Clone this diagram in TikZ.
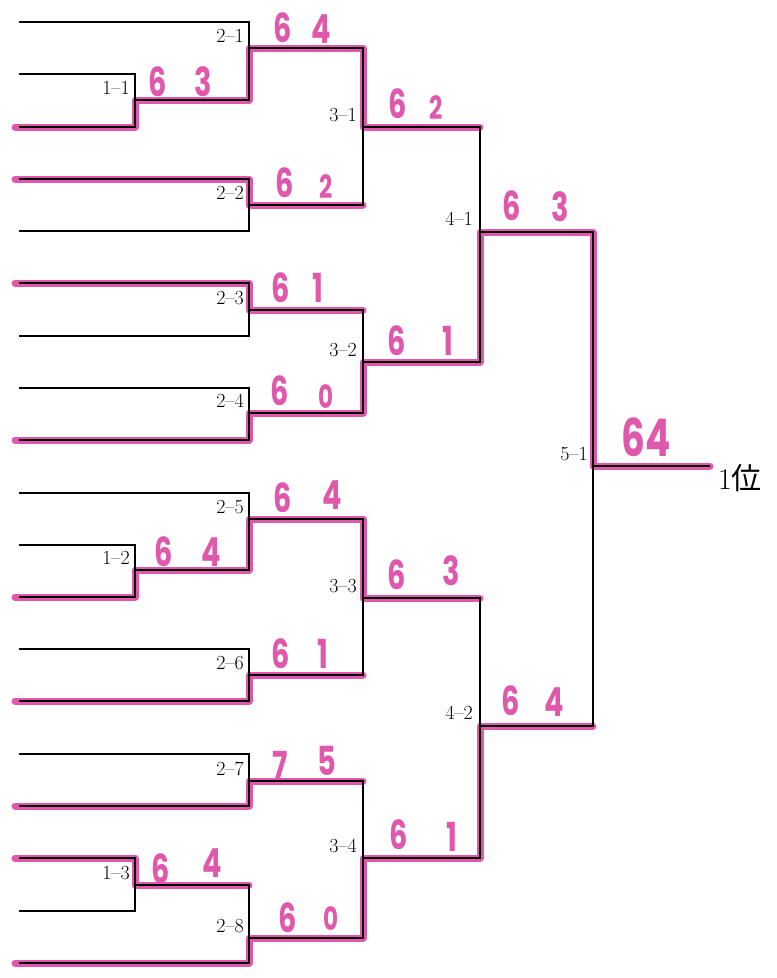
\documentclass[tikz,border=0pt]{standalone}
\usepackage{fontspec}
\newfontfamily\handfont{Poppins}
\newfontfamily\cjkfont{Noto Sans CJK JP}
\definecolor{marker}{RGB}{224,88,172}
\newcommand\hw[1]{\scalebox{0.72}[1]{#1}}
\begin{document}
\begin{tikzpicture}[x=1pt,y=-1pt,
  bline/.style={line width=2.4pt, black, line join=miter},
  pline/.style={line width=7pt, marker, line cap=round, line join=round},
  mlabel/.style={font=\fontsize{20}{20}\selectfont, anchor=south east, inner sep=0pt},
  score/.style={font=\handfont\bfseries\fontsize{40}{40}\selectfont, text=marker, inner sep=0pt},
  smallscore/.style={font=\handfont\bfseries\fontsize{32}{32}\selectfont, text=marker, inner sep=0pt}]
\useasboundingbox[fill=white] (0,0) rectangle (777,978);

% ---------- pink winner paths ----------
\draw[pline] (15,127) -- (135,127) -- (135,100) -- (249,100) -- (249,48) -- (363,48) -- (363,127) -- (480,127);
\draw[pline] (15,179) -- (249,179) -- (249,205) -- (363,205);
\draw[pline] (15,283) -- (249,283) -- (249,310) -- (363,310);
\draw[pline] (15,440) -- (249,440) -- (249,413) -- (363,413) -- (363,362) -- (480,362) -- (480,232) -- (593,232) -- (593,466) -- (710,466);
\draw[pline] (15,597) -- (135,597) -- (135,570) -- (249,570) -- (249,519) -- (363,519) -- (363,598) -- (480,598);
\draw[pline] (15,701) -- (249,701) -- (249,675) -- (363,675);
\draw[pline] (15,806) -- (249,806) -- (249,781) -- (363,781);
\draw[pline] (15,858) -- (135,858) -- (135,885) -- (249,885);
\draw[pline] (15,963) -- (249,963) -- (249,938) -- (363,938) -- (363,858) -- (480,858) -- (480,726) -- (593,726);

% ---------- black bracket ----------
\draw[bline] (19,22) -- (249,22) -- (249,100) -- (135,100);
\draw[bline] (19,74) -- (135,74) -- (135,127) -- (19,127);
\draw[bline] (19,179) -- (249,179) -- (249,231) -- (19,231);
\draw[bline] (19,283) -- (249,283) -- (249,336) -- (19,336);
\draw[bline] (19,388) -- (249,388) -- (249,440) -- (19,440);
\draw[bline] (19,493) -- (249,493) -- (249,570) -- (135,570);
\draw[bline] (19,545) -- (135,545) -- (135,597) -- (19,597);
\draw[bline] (19,649) -- (249,649) -- (249,701) -- (19,701);
\draw[bline] (19,754) -- (249,754) -- (249,806) -- (19,806);
\draw[bline] (19,858) -- (135,858) -- (135,911) -- (19,911);
\draw[bline] (135,885) -- (249,885) -- (249,963) -- (19,963);
\draw[bline] (249,48) -- (363,48) -- (363,205) -- (249,205);
\draw[bline] (249,310) -- (363,310) -- (363,413) -- (249,413);
\draw[bline] (249,519) -- (363,519) -- (363,675) -- (249,675);
\draw[bline] (249,781) -- (363,781) -- (363,938) -- (249,938);
\draw[bline] (363,127) -- (480,127) -- (480,362) -- (363,362);
\draw[bline] (363,598) -- (480,598) -- (480,858) -- (363,858);
\draw[bline] (480,232) -- (593,232) -- (593,726) -- (480,726);
\draw[bline] (593,466) -- (710,466);

% ---------- match labels ----------
\node[mlabel] (m11) at (130,95) {1--1};
\node[mlabel] (m12) at (130,565) {1--2};
\node[mlabel] (m13) at (130,880) {1--3};
\node[mlabel] (m21) at (244,43) {2--1};
\node[mlabel] (m22) at (244,200) {2--2};
\node[mlabel] (m23) at (244,305) {2--3};
\node[mlabel] (m24) at (244,408) {2--4};
\node[mlabel] (m25) at (244,514) {2--5};
\node[mlabel] (m26) at (244,670) {2--6};
\node[mlabel] (m27) at (244,776) {2--7};
\node[mlabel] (m28) at (244,933) {2--8};
\node[mlabel] (m31) at (357,122) {3--1};
\node[mlabel] (m32) at (357,357) {3--2};
\node[mlabel] (m33) at (357,593) {3--3};
\node[mlabel] (m34) at (357,853) {3--4};
\node[mlabel] (m41) at (473,226) {4--1};
\node[mlabel] (m42) at (473,720) {4--2};
\node[mlabel] (m51) at (588,461) {5--1};
\node[anchor=west, inner sep=0pt, font=\fontsize{30}{30}\selectfont] (rank) at (718,478) {1\cjkfont 位};

% ---------- handwritten scores ----------
\node[score] (s11a) at (158,82) {\hw{6}};
\node[score] (s11b) at (203,82) {\hw{3}};
\node[score] (s21a) at (283,28) {\hw{6}};
\node[score] (s21b) at (321,29) {\hw{4}};
\node[score] (s22a) at (285,183) {\hw{6}};
\node[smallscore] (s22b) at (326,187) {\hw{2}};
\node[score] (s31a) at (398,104) {\hw{6}};
\node[smallscore] (s31b) at (436,108) {\hw{2}};
\node[score] (s23a) at (281,288) {\hw{6}};
\node[score] (s23b) at (318,288) {\hw{1}};
\node[score] (s24a) at (280,391) {\hw{6}};
\node[smallscore] (s24b) at (326,397) {\hw{0}};
\node[score] (s32a) at (397,341) {\hw{6}};
\node[score] (s32b) at (448,341) {\hw{1}};
\node[score] (s41a) at (512,206) {\hw{6}};
\node[score] (s41b) at (560,207) {\hw{3}};
\node[score] (s25a) at (283,498) {\hw{6}};
\node[score] (s25b) at (332,495) {\hw{4}};
\node[score] (s12a) at (164,552) {\hw{6}};
\node[score] (s12b) at (211,552) {\hw{4}};
\node[score] (s33a) at (397,575) {\hw{6}};
\node[score] (s33b) at (451,571) {\hw{3}};
\node[score] (s26a) at (281,654) {\hw{6}};
\node[score] (s26b) at (323,654) {\hw{1}};
\node[score] (s42a) at (511,701) {\hw{6}};
\node[score] (s42b) at (554,702) {\hw{4}};
\node[score] (s27a) at (280,766) {\hw{7}};
\node[score] (s27b) at (327,761) {\hw{5}};
\node[score] (s34a) at (399,835) {\hw{6}};
\node[score] (s34b) at (452,837) {\hw{1}};
\node[score] (s13a) at (161,869) {\hw{6}};
\node[score] (s13b) at (212,863) {\hw{4}};
\node[score] (s28a) at (288,918) {\hw{6}};
\node[smallscore] (s28b) at (331,919) {\hw{0}};
\node[score, font=\handfont\bfseries\fontsize{52}{52}\selectfont] (s51) at (646,437) {\hw{64}};
\end{tikzpicture}
\end{document}
